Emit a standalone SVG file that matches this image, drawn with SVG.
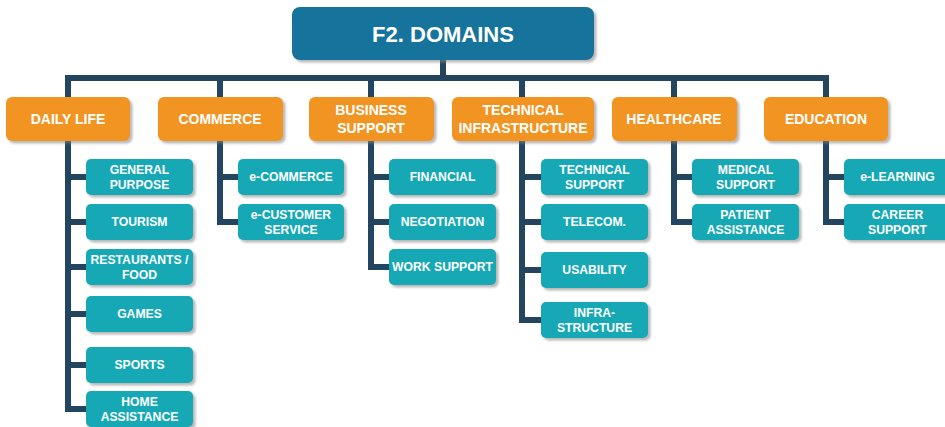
<svg xmlns="http://www.w3.org/2000/svg" width="945" height="427" viewBox="0 0 945 427">
<defs>
<filter id="sh" x="-10%" y="-10%" width="130%" height="140%">
<feDropShadow dx="2.5" dy="2.5" stdDeviation="0.8" flood-color="#7f7f7f" flood-opacity="0.55"/>
</filter>
<style>
.root{fill:#13739B;filter:url(#sh)}
.l1{fill:#F29420;filter:url(#sh)}
.l2{fill:#15A9B5;filter:url(#sh)}
.con{fill:none;stroke:#24455F;stroke-width:6;stroke-linejoin:miter;stroke-linecap:butt}
text{font-family:"Liberation Sans",Arial,sans-serif;font-weight:bold;fill:#fff;text-anchor:middle}
.t0{font-size:22px}
.t1{font-size:14px}
.t2{font-size:12.2px}
</style>
</defs>
<rect width="945" height="427" fill="#fff"/>
<g id="connectors">
<path class="con" d="M443,60 V78"/>
<path class="con" d="M68,97 V78 H826 V97"/>
<path class="con" d="M220,78 V97 M371,78 V97 M522,78 V97 M674,78 V97"/>
<path class="con" d="M68,141 V409 H86 M68,177 H86 M68,222 H86 M68,267 H86 M68,314 H86 M68,365 H86"/>
<path class="con" d="M220,141 V222 H238 M220,177 H238"/>
<path class="con" d="M371,141 V267 H389 M371,177 H389 M371,222 H389"/>
<path class="con" d="M522,141 V320 H541 M522,177 H541 M522,222 H541 M522,270 H541"/>
<path class="con" d="M674,141 V222 H692 M674,177 H692"/>
<path class="con" d="M826,141 V222 H844 M826,177 H844"/>
</g>
<g id="root"><rect class="root" x="292" y="7" width="302" height="53" rx="8"/><text class="t0" x="443" y="42">F2. DOMAINS</text></g>
<g id="daily-life"><rect class="l1" x="6" y="97" width="124" height="44" rx="6"/><text class="t1" x="68" y="124">DAILY LIFE</text></g>
<g id="commerce"><rect class="l1" x="158" y="97" width="125" height="44" rx="6"/><text class="t1" x="220" y="124">COMMERCE</text></g>
<g id="business-support"><rect class="l1" x="309" y="97" width="125" height="44" rx="6"/><text class="t1" x="371" y="115">BUSINESS</text><text class="t1" x="371" y="132.5">SUPPORT</text></g>
<g id="technical-infrastructure"><rect class="l1" x="452" y="97" width="142" height="44" rx="6"/><text class="t1" x="523" y="115">TECHNICAL</text><text class="t1" x="523" y="132.5">INFRASTRUCTURE</text></g>
<g id="healthcare"><rect class="l1" x="612" y="97" width="125" height="44" rx="6"/><text class="t1" x="674" y="124">HEALTHCARE</text></g>
<g id="education"><rect class="l1" x="764" y="97" width="124" height="44" rx="6"/><text class="t1" x="826" y="124">EDUCATION</text></g>

<g id="general-purpose"><rect class="l2" x="86" y="159" width="107" height="36" rx="5"/><text class="t2" x="139.5" y="174">GENERAL</text><text class="t2" x="139.5" y="189">PURPOSE</text></g>
<g id="tourism"><rect class="l2" x="86" y="204" width="107" height="36" rx="5"/><text class="t2" x="139.5" y="226.3">TOURISM</text></g>
<g id="restaurants-food"><rect class="l2" x="86" y="249" width="107" height="36" rx="5"/><text class="t2" x="139.5" y="264">RESTAURANTS /</text><text class="t2" x="139.5" y="279">FOOD</text></g>
<g id="games"><rect class="l2" x="86" y="296" width="107" height="36" rx="5"/><text class="t2" x="139.5" y="318.3">GAMES</text></g>
<g id="sports"><rect class="l2" x="86" y="347" width="107" height="36" rx="5"/><text class="t2" x="139.5" y="369.3">SPORTS</text></g>
<g id="home-assistance"><rect class="l2" x="86" y="391" width="107" height="36" rx="5"/><text class="t2" x="139.5" y="406">HOME</text><text class="t2" x="139.5" y="421">ASSISTANCE</text></g>

<g id="e-commerce"><rect class="l2" x="238" y="159" width="106" height="36" rx="5"/><text class="t2" x="291" y="181.3">e-COMMERCE</text></g>
<g id="e-customer-service"><rect class="l2" x="238" y="204" width="106" height="36" rx="5"/><text class="t2" x="291" y="219">e-CUSTOMER</text><text class="t2" x="291" y="234">SERVICE</text></g>

<g id="financial"><rect class="l2" x="389" y="159" width="107" height="36" rx="5"/><text class="t2" x="442.5" y="181.3">FINANCIAL</text></g>
<g id="negotiation"><rect class="l2" x="389" y="204" width="107" height="36" rx="5"/><text class="t2" x="442.5" y="226.3">NEGOTIATION</text></g>
<g id="work-support"><rect class="l2" x="389" y="249" width="107" height="36" rx="5"/><text class="t2" x="442.5" y="271.3">WORK SUPPORT</text></g>

<g id="technical-support"><rect class="l2" x="541" y="159" width="107" height="36" rx="5"/><text class="t2" x="594.5" y="174">TECHNICAL</text><text class="t2" x="594.5" y="189">SUPPORT</text></g>
<g id="telecom"><rect class="l2" x="541" y="204" width="107" height="36" rx="5"/><text class="t2" x="594.5" y="226.3">TELECOM.</text></g>
<g id="usability"><rect class="l2" x="541" y="252" width="107" height="36" rx="5"/><text class="t2" x="594.5" y="274.3">USABILITY</text></g>
<g id="infra-structure"><rect class="l2" x="541" y="302" width="107" height="36" rx="5"/><text class="t2" x="594.5" y="317">INFRA-</text><text class="t2" x="594.5" y="332">STRUCTURE</text></g>

<g id="medical-support"><rect class="l2" x="692" y="159" width="107" height="36" rx="5"/><text class="t2" x="745.5" y="174">MEDICAL</text><text class="t2" x="745.5" y="189">SUPPORT</text></g>
<g id="patient-assistance"><rect class="l2" x="692" y="204" width="107" height="36" rx="5"/><text class="t2" x="745.5" y="219">PATIENT</text><text class="t2" x="745.5" y="234">ASSISTANCE</text></g>

<g id="e-learning"><rect class="l2" x="844" y="159" width="107" height="36" rx="5"/><text class="t2" x="897.5" y="181.3">e-LEARNING</text></g>
<g id="career-support"><rect class="l2" x="844" y="204" width="107" height="36" rx="5"/><text class="t2" x="897.5" y="219">CAREER</text><text class="t2" x="897.5" y="234">SUPPORT</text></g>
</svg>
